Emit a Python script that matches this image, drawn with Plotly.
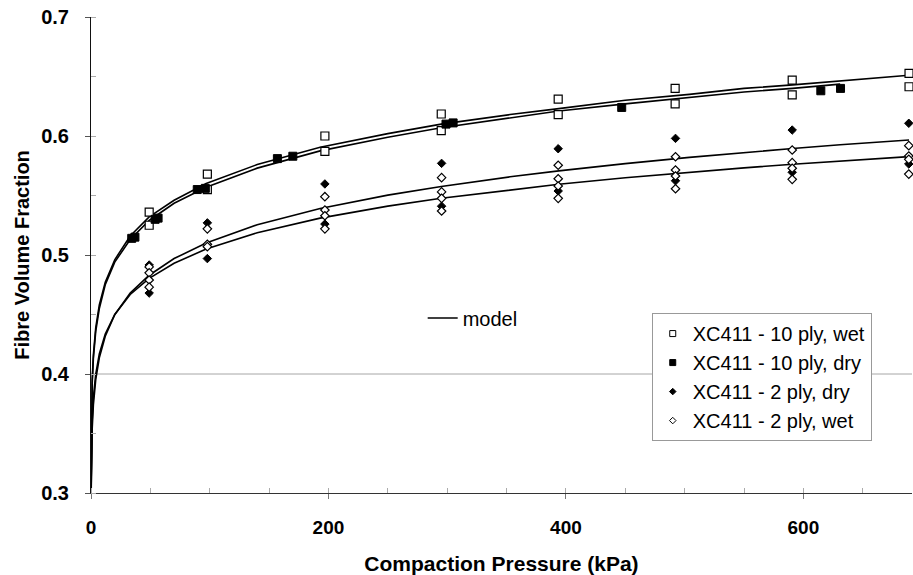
import plotly.graph_objects as go

p_10wet = [49, 49, 98, 98, 197, 197, 295, 295, 393.5, 393.5, 492, 492, 590.6, 590.6, 689, 689]
v_10wet = [0.536, 0.525, 0.568, 0.555, 0.600, 0.587, 0.6185, 0.6045, 0.631, 0.618,
           0.640, 0.627, 0.647, 0.6345, 0.6527, 0.6414]

p_10dry = [34.3, 37, 54, 56.5, 89.5, 96.3, 157, 170, 299, 305, 447, 614.7, 631.3]
v_10dry = [0.514, 0.515, 0.530, 0.531, 0.555, 0.556, 0.581, 0.583, 0.610, 0.611, 0.624, 0.638, 0.640]

p_2dry = [49, 49, 98, 98, 197, 197, 295.3, 295.3, 393.5, 393.5, 492.3, 492.3, 590.6, 590.6, 688.8, 688.8]
v_2dry = [0.4916, 0.468, 0.527, 0.497, 0.5597, 0.526, 0.577, 0.541, 0.5893, 0.5538,
          0.598, 0.5624, 0.605, 0.5695, 0.6107, 0.5765]

p_2wet = [49, 49, 49, 49, 98, 98, 98, 197, 197, 197, 197, 295.3, 295.3, 295.3, 295.3,
          393.5, 393.5, 393.5, 393.5, 492.3, 492.3, 492.3, 492.3, 590.6, 590.6, 590.6, 590.6,
          688.8, 688.8, 688.8, 688.8]
v_2wet = [0.490, 0.485, 0.479, 0.473, 0.522, 0.509, 0.507, 0.549, 0.5378, 0.533, 0.522,
          0.565, 0.553, 0.5476, 0.537, 0.5754, 0.5641, 0.558, 0.5476,
          0.5826, 0.5714, 0.5664, 0.5557, 0.5882, 0.5776, 0.5729, 0.5636,
          0.5919, 0.5832, 0.5804, 0.568]

# ---- model curves ----
pm_10wet = [0.03, 0.3, 1, 2, 4, 7, 12, 20, 33, 49, 70, 97, 140, 193, 250, 295, 353, 394, 450, 504, 550, 591, 631, 689]
vm_10wet = [0.300, 0.360, 0.395, 0.416, 0.439, 0.458, 0.477, 0.496, 0.516, 0.532, 0.546, 0.560,
            0.576, 0.5905, 0.602, 0.610, 0.618, 0.623, 0.630, 0.635, 0.640, 0.643, 0.6465, 0.651]

pm_10dry = [0.03, 0.3, 1, 2, 4, 7, 12, 20, 33, 49, 70, 97, 140, 193, 250, 295, 353, 394, 450, 504, 550, 591, 631]
vm_10dry = [0.300, 0.357, 0.392, 0.413, 0.436, 0.455, 0.475, 0.494, 0.513, 0.529, 0.5435, 0.557,
            0.573, 0.5875, 0.599, 0.607, 0.615, 0.621, 0.627, 0.6325, 0.637, 0.640, 0.6436]

pm_2dry = [0.13, 0.3, 1, 2, 4, 7, 12, 20, 33, 49, 70, 97, 140, 193, 250, 295, 353, 394, 450, 504, 550, 591, 631, 689]
vm_2dry = [0.300, 0.3215, 0.354, 0.374, 0.3955, 0.4136, 0.4317, 0.4498, 0.468, 0.483, 0.497, 0.510,
           0.5254, 0.539, 0.5503, 0.5576, 0.5657, 0.5707, 0.5768, 0.582, 0.5861, 0.5895, 0.5926, 0.5967]

pm_2wet = [0.08, 0.3, 1, 2, 4, 7, 12, 20, 33, 49, 70, 97, 140, 193, 250, 295, 353, 394, 450, 504, 550, 591, 631, 689]
vm_2wet = [0.300, 0.3312, 0.3616, 0.3804, 0.400, 0.4168, 0.4335, 0.450, 0.4668, 0.4804, 0.4931, 0.505,
           0.5187, 0.531, 0.5411, 0.5477, 0.5549, 0.5594, 0.5649, 0.5696, 0.5732, 0.5762, 0.579, 0.5827]

names = ["XC411 - 10 ply, wet", "XC411 - 10 ply, dry", "XC411 - 2 ply, dry", "XC411 - 2 ply, wet"]

FONT = "Liberation Sans, Arial, sans-serif"
fig = go.Figure()

# model curves
for i, (px, vy) in enumerate([(pm_10wet, vm_10wet), (pm_10dry, vm_10dry), (pm_2dry, vm_2dry), (pm_2wet, vm_2wet)]):
    fig.add_trace(go.Scatter(x=px, y=vy, mode="lines", line=dict(color="black", width=1.6),
                             name="model", showlegend=(i == 0), legend="legend2", hoverinfo="skip"))

styles = [
    dict(symbol="square", color="white", size=8, line=dict(color="black", width=1.2)),
    dict(symbol="square", color="black", size=8, line=dict(color="black", width=1)),
    dict(symbol="diamond", color="black", size=6.5, line=dict(color="black", width=1)),
    dict(symbol="diamond", color="white", size=6.5, line=dict(color="black", width=1.2)),
]
series = [(p_10wet, v_10wet), (p_10dry, v_10dry), (p_2dry, v_2dry), (p_2wet, v_2wet)]
for (px, vy), st, nm in zip(series, styles, names):
    fig.add_trace(go.Scatter(x=px, y=vy, mode="markers", marker=st, name=nm,
                             showlegend=False, cliponaxis=False))

# legend entries with small symbols
leg_styles = [
    dict(symbol="square", color="white", size=6, line=dict(color="black", width=1)),
    dict(symbol="square", color="black", size=6, line=dict(color="black", width=1)),
    dict(symbol="diamond", color="black", size=5, line=dict(color="black", width=1)),
    dict(symbol="diamond", color="white", size=5, line=dict(color="black", width=1)),
]
for st, nm in zip(leg_styles, names):
    fig.add_trace(go.Scatter(x=[None], y=[None], mode="markers", marker=st, name=nm,
                             showlegend=True, legend="legend"))

fig.add_shape(type="line", xref="paper", x0=0, x1=1, yref="y", y0=0.4, y1=0.4,
              line=dict(color="#a6a6a6", width=1), layer="below")

fig.update_layout(
    width=913, height=575,
    margin=dict(l=91, r=1, t=17, b=82),
    paper_bgcolor="white", plot_bgcolor="white",
    font=dict(family=FONT, color="black"),
    xaxis=dict(range=[0, 691.5], dtick=200, tick0=0, showgrid=False, zeroline=False,
               showline=True, linecolor="#333333", linewidth=1,
               ticks="outside", ticklen=5, tickcolor="#777777", ticklabelstandoff=12,
               minor=dict(dtick=50, ticks="inside", ticklen=5, tickcolor="#aaaaaa", showgrid=False),
               tickfont=dict(family=FONT, size=19, color="black", weight="bold"),
               title=dict(text="<b>Compaction Pressure (kPa)</b>", font=dict(family=FONT, size=21), standoff=20)),
    yaxis=dict(range=[0.3, 0.7], dtick=0.1, tick0=0.3, tickformat=".1f", showgrid=False, zeroline=False,
               showline=True, linecolor="#111111", linewidth=1,
               ticks="outside", ticklen=5, tickcolor="#555555", ticklabelstandoff=12,
               minor=dict(dtick=0.05, ticks="inside", ticklen=5, tickcolor="#aaaaaa", showgrid=False),
               tickfont=dict(family=FONT, size=20, color="black", weight="bold"),
               title=dict(text="<b>Fibre Volume Fraction</b>", font=dict(family=FONT, size=20), standoff=6)),
    legend=dict(x=0.683, y=0.378, xanchor="left", yanchor="top", bgcolor="white",
                bordercolor="#999999", borderwidth=1, font=dict(family=FONT, size=20),
                itemwidth=30, tracegroupgap=0),
    legend2=dict(x=0.404, y=0.3676, xanchor="left", yanchor="middle", bgcolor="rgba(0,0,0,0)",
                 borderwidth=0, font=dict(family=FONT, size=20)),
)

fig.write_html("out.html")
